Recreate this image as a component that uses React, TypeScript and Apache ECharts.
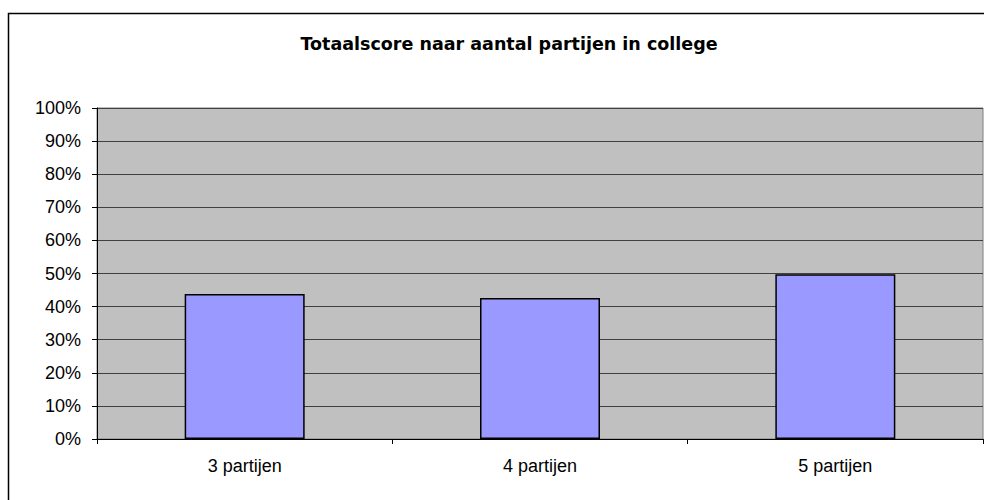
import React, { useEffect, useRef } from "react";
import * as echarts from "echarts";

const categories = ["3 partijen", "4 partijen", "5 partijen"];
const scores = [43.8, 42.6, 49.8];
const yTicks = [0, 10, 20, 30, 40, 50, 60, 70, 80, 90, 100];
const titleText = "Totaalscore naar aantal partijen in college";

export default function App() {
  const ref = useRef<HTMLDivElement>(null);
  useEffect(() => {
    document.body.style.margin = "0";
    const chart = echarts.init(ref.current!, null, { renderer: "svg" });
    chart.setOption({
      animation: false,
      backgroundColor: "#ffffff",
      title: {
        text: titleText,
        left: 504,
        top: 30,
        textAlign: "center",
        textStyle: { fontFamily: "DejaVu Sans", fontSize: 17.5, fontWeight: "bold", color: "#000" },
      },
      graphic: [
        {
          type: "rect",
          shape: { x: 8.5, y: 13.5, width: 1000, height: 600 },
          style: { fill: "none", stroke: "#000", lineWidth: 1.5 },
          silent: true,
        },
      ],
      grid: {
        left: 97,
        top: 108,
        right: 1,
        bottom: 61,
        show: true,
        backgroundColor: "#c0c0c0",
        borderColor: "#808080",
        borderWidth: 1,
      },
      xAxis: {
        type: "category",
        data: categories,
        axisLine: { lineStyle: { color: "#000", width: 1 } },
        axisTick: { show: true, alignWithLabel: false, length: 5, lineStyle: { color: "#000" } },
        axisLabel: { color: "#000", fontFamily: "Liberation Sans, Arial", fontSize: 18, margin: 18 },
        splitLine: { show: false },
      },
      yAxis: {
        type: "value",
        min: yTicks[0],
        max: yTicks[yTicks.length - 1],
        interval: 10,
        axisLine: { show: true, lineStyle: { color: "#000", width: 1 } },
        axisTick: { show: true, length: 5, lineStyle: { color: "#000" } },
        axisLabel: {
          color: "#000",
          fontFamily: "Liberation Sans, Arial",
          fontSize: 18,
          margin: 16,
          formatter: (v: number) => v + "%",
        },
        splitLine: { show: true, lineStyle: { color: "#404040", width: 1 } },
      },
      series: [
        {
          type: "bar",
          data: scores,
          barWidth: 120,
          itemStyle: { color: "#9999ff", borderColor: "#000", borderWidth: 1.5 },
        },
      ],
    });
    return () => chart.dispose();
  }, []);
  return <div ref={ref} style={{ width: 984, height: 500 }} />;
}
